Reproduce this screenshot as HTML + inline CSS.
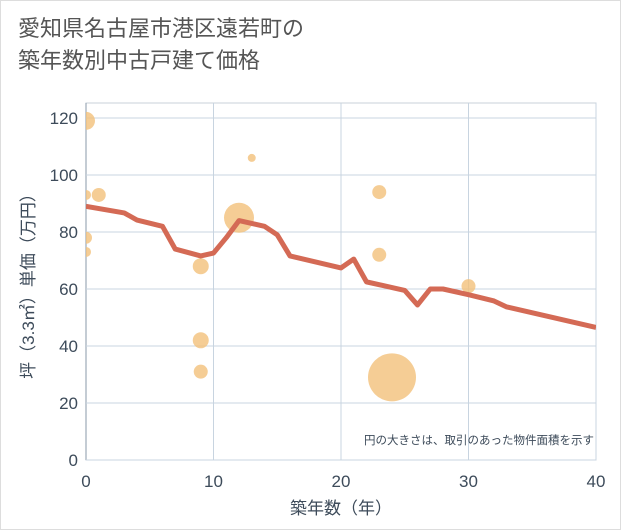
<!DOCTYPE html>
<html><head><meta charset="utf-8"><style>
body{margin:0;background:#fff;}
.wrap{width:621px;height:530px;position:relative;background:#fff;font-family:"Liberation Sans","Noto Sans CJK JP",sans-serif;}
.frame{position:absolute;left:0;top:0;width:619px;height:528px;border:1px solid #ddd;}
.title{position:absolute;left:18px;top:13px;font-size:22px;color:#555;line-height:32px;}
</style></head><body>
<div class="wrap">
<div class="frame"></div>
<div class="title">愛知県名古屋市港区遠若町の<br>築年数別中古戸建て価格</div>
<svg id="chart" width="621" height="530" style="position:absolute;left:0;top:0"><defs><clipPath id="pc"><rect x="86" y="103" width="510" height="357"/></clipPath></defs></svg>
</div>
<script>
const xTicks=[0,10,20,30,40];
const yTicks=[0,20,40,60,80,100,120];
const lineYears=[0,3,4,6,7,9,10,11,12,14,15,16,20,21,22,24,25,26,27,28,30,32,33,40];
const linePrices=[89,86.7,84.2,82,74,71.6,72.6,78,84,82,79,71.6,67.4,70.5,62.5,60.5,59.5,54.4,60,60,58,55.8,53.7,46.5];
const bubbleYears=[0,0,1,0,0,9,12,13,9,9,23,23,24,30];
const bubblePrices=[119,93,93,78,73,68,85,106,42,31,94,72,29,61];
const bubbleSizes=[9,5,7,6,5,8,15,4,8,7,7,7,24,7];
const NS="http://www.w3.org/2000/svg";
const svg=document.getElementById('chart');
const L=86,R=596,T=103,B=460;
const xs=v=>L+(R-L)*v/40;
const ys=v=>B-(B-118)*v/120;
function mk(t,a,parent){const e=document.createElementNS(NS,t);for(const k in a)e.setAttribute(k,a[k]);(parent||svg).appendChild(e);return e;}
let bg=mk('rect',{x:L,y:T,width:R-L,height:B-T,fill:'#fff',stroke:'#c8d0da'});


xTicks.forEach(v=>{
 let g=mk('line',{x1:xs(v),x2:xs(v),y1:T,y2:B,stroke:v===0?'#8a9aaa':'#c8d4e0','stroke-width':1});
 
 
 let t=mk('text',{x:xs(v),y:487,'text-anchor':'middle','font-size':17,fill:'#3d4b5a'});t.textContent=v;
 
 
});
yTicks.forEach(v=>{
 let g=mk('line',{x1:L,x2:R,y1:ys(v),y2:ys(v),stroke:'#c8d4e0','stroke-width':1});
 
 
 let t=mk('text',{x:78,y:ys(v)+6,'text-anchor':'end','font-size':17,fill:'#3d4b5a'});t.textContent=v;
 
 
});
const grp=mk('g',{'clip-path':'url(#pc)'});


bubbleYears.forEach((yr,i)=>{
 let c=mk('circle',{cx:xs(yr),cy:ys(bubblePrices[i]),r:bubbleSizes[i],fill:'#f3c07a','fill-opacity':0.8},grp);
 
 
});
let p=mk('polyline',{points:lineYears.map((y,i)=>xs(y)+','+ys(linePrices[i])).join(' '),fill:'none',stroke:'#d46a55','stroke-width':5,'stroke-linejoin':'round'},grp);


let n=mk('text',{x:594,y:444,'text-anchor':'end','font-size':11.5,fill:'#3d4b5a'});n.textContent='円の大きさは、取引のあった物件面積を示す';


let xt=mk('text',{x:341,y:514,'text-anchor':'middle','font-size':17,fill:'#3d4b5a'});xt.textContent='築年数（年）';


let yt=mk('text',{x:0,y:0,'text-anchor':'middle','font-size':17,fill:'#3d4b5a',transform:'translate(34,282) rotate(-90)'});yt.textContent='坪（3.3㎡）単価（万円）';


</script>
</body></html>
